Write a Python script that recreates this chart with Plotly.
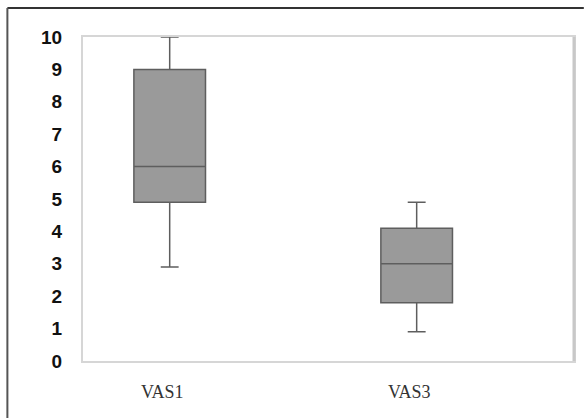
import plotly.graph_objects as go

categories = ["VAS1", "VAS3"]
positions = [0, 1]
lower_fence = [2.9, 0.9]
q1_vals = [4.9, 1.8]
median_vals = [6.0, 3.0]
q3_vals = [9.0, 4.1]
upper_fence = [10.0, 4.9]
y_ticks = list(range(0, 11))

fig = go.Figure()
fig.add_trace(go.Box(
    x=positions,
    q1=q1_vals,
    median=median_vals,
    q3=q3_vals,
    lowerfence=lower_fence,
    upperfence=upper_fence,
    width=0.29,
    whiskerwidth=0.25,
    fillcolor="#9a9a9a",
    line=dict(color="#5e5e5e", width=1.5),
    boxpoints=False,
    showlegend=False,
    hoverinfo="skip",
))

# outer frame lines (top and left), in paper coords
fig.add_shape(type="line", xref="paper", yref="paper",
              x0=-0.154, x1=1.02, y0=1.0895, y1=1.0895,
              line=dict(color="#333333", width=2))
fig.add_shape(type="line", xref="paper", yref="paper",
              x0=-0.154, x1=-0.154, y0=1.0895, y1=-0.2,
              line=dict(color="#555555", width=2))
# thicker right border of plot area
fig.add_shape(type="line", xref="paper", yref="paper",
              x0=1.0, x1=1.0, y0=0, y1=1,
              line=dict(color="#c8c8c8", width=3))

fig.update_layout(
    width=584, height=418,
    margin=dict(l=83, r=8, t=37, b=57),
    paper_bgcolor="white",
    plot_bgcolor="white",
    xaxis=dict(
        range=[-0.351, 1.637],
        tickvals=[p - 0.03 for p in positions],
        ticktext=categories,
        showgrid=False, zeroline=False,
        showline=True, mirror=True, linecolor="#d6d6d6", linewidth=2,
        ticks="", ticklabelstandoff=13,
        tickfont=dict(family="Liberation Serif", size=18, color="#333333"),
    ),
    yaxis=dict(
        range=[0, 10],
        tickvals=y_ticks,
        showgrid=False, zeroline=False,
        showline=True, mirror=True, linecolor="#d6d6d6", linewidth=2,
        ticks="", ticklabelstandoff=15,
        tickfont=dict(family="Liberation Sans", size=19, color="#111111", weight="bold"),
    ),
)

fig.write_html("out.html", config={"displayModeBar": False})

with open("out.html", "r", encoding="utf-8") as f:
    html = f.read()
html = html.replace("<head>", "<head><style>html,body{margin:0;padding:0;overflow:hidden;}</style>", 1)
with open("out.html", "w", encoding="utf-8") as f:
    f.write(html)
